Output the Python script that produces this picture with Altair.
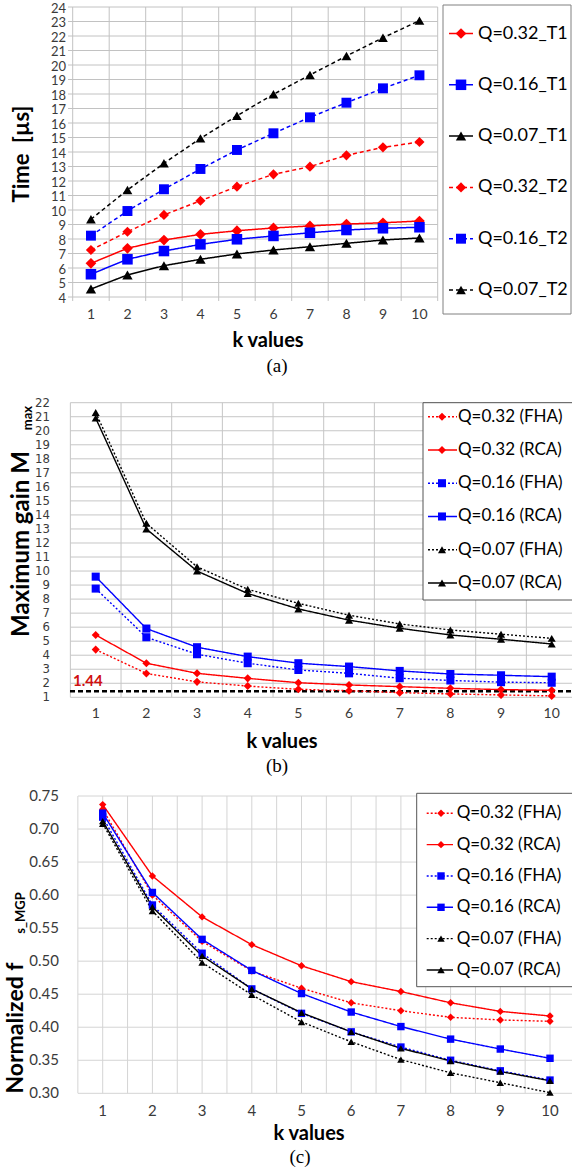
import altair as alt
import pandas as pd

# ------------------------------------------------------------------ data
K_VALUES = [1, 2, 3, 4, 5, 6, 7, 8, 9, 10]

# (a) time vs k
A_SERIES = ["Q=0.32_T1", "Q=0.16_T1", "Q=0.07_T1", "Q=0.32_T2", "Q=0.16_T2", "Q=0.07_T2"]
A_T1_Q032 = [6.32, 7.36, 7.93, 8.32, 8.57, 8.76, 8.90, 9.03, 9.12, 9.24]
A_T1_Q016 = [5.57, 6.60, 7.17, 7.63, 7.98, 8.21, 8.43, 8.62, 8.74, 8.81]
A_T1_Q007 = [4.55, 5.52, 6.16, 6.60, 6.97, 7.24, 7.47, 7.70, 7.93, 8.07]
A_T2_Q032 = [7.24, 8.50, 9.66, 10.64, 11.61, 12.46, 12.99, 13.77, 14.32, 14.69]
A_T2_Q016 = [8.23, 9.93, 11.43, 12.83, 14.14, 15.29, 16.39, 17.40, 18.39, 19.29]
A_T2_Q007 = [9.36, 11.38, 13.22, 14.94, 16.50, 17.98, 19.31, 20.62, 21.88, 23.06]
A_YTICKS = [4, 5, 6, 7, 8, 9, 10, 11, 12, 13, 14, 15, 16, 17, 18, 19, 20, 21, 22, 23, 24]
A_XGRID = [0.5, 1.5, 2.5, 3.5, 4.5, 5.5, 6.5, 7.5, 8.5, 9.5, 10.5]

# (b) maximum gain vs k
B_SERIES = ["Q=0.32 (FHA)", "Q=0.32 (RCA)", "Q=0.16 (FHA)", "Q=0.16 (RCA)", "Q=0.07 (FHA)", "Q=0.07 (RCA)"]
B_Q032_FHA = [4.40, 2.70, 2.10, 1.80, 1.57, 1.47, 1.33, 1.24, 1.17, 1.10]
B_Q032_RCA = [5.44, 3.43, 2.71, 2.35, 2.04, 1.88, 1.76, 1.64, 1.55, 1.50]
B_Q016_FHA = [8.75, 5.28, 4.07, 3.43, 2.95, 2.71, 2.36, 2.20, 2.08, 2.04]
B_Q016_RCA = [9.60, 5.90, 4.57, 3.90, 3.43, 3.19, 2.88, 2.66, 2.57, 2.47]
B_Q007_FHA = [21.30, 13.40, 10.30, 8.70, 7.70, 6.85, 6.23, 5.80, 5.50, 5.20]
B_Q007_RCA = [20.90, 13.00, 10.00, 8.40, 7.30, 6.50, 5.92, 5.44, 5.14, 4.80]
B_REF_VALUE = [1.44]
B_REF_LABEL = ["1.44"]
B_YTICKS = [1, 2, 3, 4, 5, 6, 7, 8, 9, 10, 11, 12, 13, 14, 15, 16, 17, 18, 19, 20, 21, 22]
B_XGRID = [0.5, 1.5, 2.5, 3.5, 4.5, 5.5, 6.5, 7.5, 8.5, 9.5, 10.5]

# (c) normalized switching frequency vs k
C_SERIES = ["Q=0.32 (FHA)", "Q=0.32 (RCA)", "Q=0.16 (FHA)", "Q=0.16 (RCA)", "Q=0.07 (FHA)", "Q=0.07 (RCA)"]
C_Q032_FHA = [0.730, 0.600, 0.530, 0.485, 0.459, 0.437, 0.425, 0.415, 0.411, 0.409]
C_Q032_RCA = [0.737, 0.629, 0.567, 0.525, 0.493, 0.469, 0.454, 0.437, 0.424, 0.417]
C_Q016_FHA = [0.718, 0.585, 0.512, 0.458, 0.421, 0.393, 0.370, 0.350, 0.334, 0.320]
C_Q016_RCA = [0.724, 0.604, 0.533, 0.486, 0.451, 0.423, 0.401, 0.382, 0.367, 0.353]
C_Q007_FHA = [0.708, 0.576, 0.498, 0.449, 0.408, 0.378, 0.351, 0.331, 0.316, 0.301]
C_Q007_RCA = [0.712, 0.582, 0.508, 0.458, 0.422, 0.393, 0.368, 0.349, 0.333, 0.319]
C_YTICKS = [0.30, 0.35, 0.40, 0.45, 0.50, 0.55, 0.60, 0.65, 0.70, 0.75]
C_XGRID = [0.5, 1.0, 1.5, 2.0, 2.5, 3.0, 3.5, 4.0, 4.5, 5.0, 5.5, 6.0, 6.5, 7.0, 7.5,
           8.0, 8.5, 9.0, 9.5, 10.0, 10.5]

# ------------------------------------------------------------------ style
RED, BLUE, BLACK = "#ff0000", "#0000ff", "#000000"
FONT = "Lato"
SERIF = "Liberation Serif"
NARROW = "DejaVu Sans Condensed, Liberation Sans Narrow, Roboto"
TICK_COLOR = "#3a3a3a"
PAGE_W, PAGE_H = 572, 1170
ONE = pd.DataFrame({"o": [0]})
SOLID, DASH, DOT = [1, 0], [4, 3], [2, 2]


def long_df(series, values):
    rows = []
    for s, vals in zip(series, values):
        for k, v in zip(K_VALUES, vals):
            rows.append({"k": k, "v": v, "series": s})
    return pd.DataFrame(rows)


def label(text, x, y, **mark):
    props = dict(font=FONT, fontSize=14, color="black", align="center", baseline="middle")
    props.update(mark)
    return alt.Chart(ONE).mark_text(text=text, **props).encode(x=alt.value(x), y=alt.value(y))


def build_panel(p):
    series = p["series"]
    xs = alt.Scale(domain=p["xdom"], range=p["xrange"], nice=False, zero=False)
    ys = alt.Scale(domain=p["ydom"], range=p["yrange"], nice=False, zero=False)
    color = alt.Color("series:N", scale=alt.Scale(domain=series, range=p["colors"]), legend=None)
    shape = alt.Shape("series:N", scale=alt.Scale(domain=series, range=p["shapes"]), legend=None)
    size = alt.Size("series:N", scale=alt.Scale(domain=series, range=p["sizes"]), legend=None)
    dash = alt.StrokeDash("series:N", scale=alt.Scale(domain=series, range=p["dashes"]), legend=None)
    data = long_df(series, p["values"])

    top, bottom = p["yrange"][1], p["yrange"][0]
    vgrid = alt.Chart(pd.DataFrame({"g": p["xgrid"]})).mark_rule(
        color=p["grid"], strokeWidth=1).encode(
        x=alt.X("g:Q", scale=xs, axis=None),
        y=alt.value(top), y2=alt.value(bottom + p.get("tick_below", 0)))
    hgrid = alt.Chart(pd.DataFrame({"t": p["yticks"]})).mark_rule(
        color=p["grid"], strokeWidth=1).encode(
        y=alt.Y("t:Q", scale=ys, axis=None),
        x=alt.value(p["hgrid_x"][0]), x2=alt.value(p["hgrid_x"][1]))
    ylabels = alt.Chart(pd.DataFrame({"t": p["yticks"]})).mark_text(
        align="right", baseline="middle", font=p["ylab_font"], fontSize=p["ylab_size"],
        dy=p.get("ylab_dy", 0), color=TICK_COLOR).encode(
        y=alt.Y("t:Q", scale=ys, axis=None), x=alt.value(p["ylab_x"]),
        text=alt.Text("t:Q", format=p["ylab_fmt"]))
    xlabels = alt.Chart(pd.DataFrame({"k": K_VALUES})).mark_text(
        align="center", baseline="middle", font=FONT, fontSize=p["xlab_size"],
        color=TICK_COLOR).encode(
        x=alt.X("k:Q", scale=xs, axis=None), y=alt.value(p["xlab_y"]),
        text=alt.Text("k:Q", format="d"))

    lines = alt.Chart(data).mark_line(strokeWidth=p["line_w"]).encode(
        x=alt.X("k:Q", scale=xs, axis=None), y=alt.Y("v:Q", scale=ys, axis=None),
        color=color, strokeDash=dash)
    points = alt.Chart(data).mark_point(filled=True, opacity=1).encode(
        x=alt.X("k:Q", scale=xs, axis=None), y=alt.Y("v:Q", scale=ys, axis=None),
        color=color, shape=shape, size=size)

    layers = [vgrid, hgrid, ylabels, xlabels]
    for f in p.get("before", []):
        layers.append(f(xs, ys))
    layers += [lines, points]
    for f in p.get("after", []):
        layers.append(f(xs, ys))

    lg = p["legend"]
    bx0, bx1, by0, by1 = lg["box"]
    layers.append(alt.Chart(ONE).mark_rect(fill="white", stroke=lg["stroke"], strokeWidth=1).encode(
        x=alt.value(bx0), x2=alt.value(bx1), y=alt.value(by0), y2=alt.value(by1)))
    for t in p["texts"]:
        layers.append(label(*t[:3], **t[3]))
    main = alt.layer(*layers)

    n = len(series)
    leg_df = pd.DataFrame({"series": series, "row": list(range(n))})
    ly = alt.Y("row:Q", scale=alt.Scale(domain=[0, n - 1], range=list(lg["rows"]),
                                        nice=False, zero=False), axis=None)
    leg_rules = alt.Chart(leg_df).mark_rule(strokeWidth=p["line_w"]).encode(
        x=alt.value(lg["line"][0]), x2=alt.value(lg["line"][1]), y=ly,
        color=color, strokeDash=dash)
    leg_pts = alt.Chart(leg_df).mark_point(filled=True, opacity=1).encode(
        x=alt.value(lg["marker"]), y=ly, color=color, shape=shape, size=size)
    leg_txt = alt.Chart(leg_df).mark_text(
        align="left", baseline="middle", font=FONT, fontSize=lg["font"], color="black").encode(
        x=alt.value(lg["text"]), y=ly, text="series:N")
    leg = alt.layer(leg_rules, leg_pts, leg_txt)
    return alt.layer(main, leg).resolve_scale(y="independent")


# ---------------------------------------------------------------- panel (a)
panel_a = build_panel(dict(
    series=A_SERIES,
    values=[A_T1_Q032, A_T1_Q016, A_T1_Q007, A_T2_Q032, A_T2_Q016, A_T2_Q007],
    colors=[RED, BLUE, BLACK, RED, BLUE, BLACK],
    shapes=["diamond", "square", "triangle-up", "diamond", "square", "triangle-up"],
    sizes=[115, 95, 150, 115, 95, 150],
    dashes=[SOLID, SOLID, SOLID, DASH, DASH, DASH], line_w=1.5,
    xdom=[0.5, 10.5], xrange=[72.7, 437.7], ydom=[4, 24], yrange=[297, 7],
    xgrid=A_XGRID, yticks=A_YTICKS, grid="#c2c2c2", tick_below=4, hgrid_x=(68, 437.7),
    ylab_x=66, ylab_size=13, ylab_font=FONT, ylab_fmt="d", ylab_dy=1.5,
    xlab_y=315, xlab_size=14,
    legend={"box": (443, 571, 5, 314), "rows": (33.5, 290), "line": (449, 473),
            "marker": 461, "text": 478, "font": 18, "stroke": "#808080"},
    texts=[("Time\u00a0\u00a0[µs]", 22, 154, {"angle": 270, "fontSize": 22, "fontWeight": "bold"}),
           ("k values", 268, 341, {"fontSize": 20, "fontWeight": "bold"}),
           ("(a)", 277, 366, {"font": SERIF, "fontSize": 19})],
))


# ---------------------------------------------------------------- panel (b)
def b_ref_rule(xs, ys):
    return alt.Chart(pd.DataFrame({"v": B_REF_VALUE})).mark_rule(
        color="black", strokeWidth=2.5, strokeDash=[5, 3]).encode(
        y=alt.Y("v:Q", scale=ys, axis=None), x=alt.value(70), x2=alt.value(PAGE_W))


def b_ref_text(xs, ys):
    return alt.Chart(pd.DataFrame({"v": B_REF_VALUE, "t": B_REF_LABEL})).mark_text(
        align="left", baseline="middle", dy=-10, font=FONT, fontSize=15, fontWeight="bold",
        color="#d01010").encode(
        y=alt.Y("v:Q", scale=ys, axis=None), x=alt.value(73), text="t:N")


panel_b = build_panel(dict(
    series=B_SERIES,
    values=[B_Q032_FHA, B_Q032_RCA, B_Q016_FHA, B_Q016_RCA, B_Q007_FHA, B_Q007_RCA],
    colors=[RED, RED, BLUE, BLUE, BLACK, BLACK],
    shapes=["diamond", "diamond", "square", "square", "triangle-up", "triangle-up"],
    sizes=[65, 65, 90, 90, 110, 110],
    dashes=[DOT, SOLID, DOT, SOLID, DOT, SOLID], line_w=1.4,
    xdom=[1, 10], xrange=[95.7, 551.7], ydom=[1, 22], yrange=[697.3, 402.7],
    xgrid=B_XGRID, yticks=B_YTICKS, grid="#c6c6c6", hgrid_x=(70.3, PAGE_W),
    ylab_x=50, ylab_size=13, ylab_font=NARROW, ylab_fmt="d",
    xlab_y=714, xlab_size=14,
    before=[b_ref_rule], after=[b_ref_text],
    legend={"box": (423, 573, 402.7, 600), "rows": (416.7, 583), "line": (428, 457),
            "marker": 442, "text": 458, "font": 17, "stroke": "#555555"},
    texts=[("Maximum gain M", 22, 544, {"angle": 270, "fontSize": 24, "fontWeight": "bold"}),
           ("max", 28, 418, {"angle": 270, "fontSize": 13, "fontWeight": "bold"}),
           ("k values", 282, 742, {"fontSize": 20, "fontWeight": "bold"}),
           ("(b)", 277, 766, {"font": SERIF, "fontSize": 19})],
))

# ---------------------------------------------------------------- panel (c)
panel_c = build_panel(dict(
    series=C_SERIES,
    values=[C_Q032_FHA, C_Q032_RCA, C_Q016_FHA, C_Q016_RCA, C_Q007_FHA, C_Q007_RCA],
    colors=[RED, RED, BLUE, BLUE, BLACK, BLACK],
    shapes=["diamond", "diamond", "square", "square", "triangle-up", "triangle-up"],
    sizes=[55, 55, 80, 80, 75, 75],
    dashes=[DOT, SOLID, DOT, SOLID, DOT, SOLID], line_w=1.4,
    xdom=[1, 10], xrange=[102.7, 550], ydom=[0.30, 0.75], yrange=[1093.3, 796],
    xgrid=C_XGRID, yticks=C_YTICKS, grid="#d4d4d4", hgrid_x=(78, PAGE_W),
    ylab_x=59, ylab_size=15, ylab_font=FONT, ylab_fmt=".2f",
    xlab_y=1110.5, xlab_size=15,
    legend={"box": (416.7, 573, 793.3, 986.7), "rows": (813.3, 970), "line": (426.7, 453),
            "marker": 441, "text": 456.7, "font": 17, "stroke": "#555555"},
    texts=[("Normalized f", 16, 1028, {"angle": 270, "fontSize": 23, "fontWeight": "bold"}),
           ("s_MGP", 21, 913, {"angle": 270, "fontSize": 13, "fontWeight": "bold"}),
           ("k values", 309, 1134, {"fontSize": 20, "fontWeight": "bold"}),
           ("(c)", 300, 1157, {"font": SERIF, "fontSize": 19})],
))

chart = alt.layer(panel_a, panel_b, panel_c).resolve_scale(
    x="independent", y="independent", color="independent", shape="independent",
    size="independent", strokeDash="independent",
).properties(
    width=PAGE_W, height=PAGE_H, padding=0,
    autosize=alt.AutoSizeParams(type="none"),
).configure_view(stroke=None)

chart.save("out.html", embed_options={"renderer": "svg", "actions": False})
